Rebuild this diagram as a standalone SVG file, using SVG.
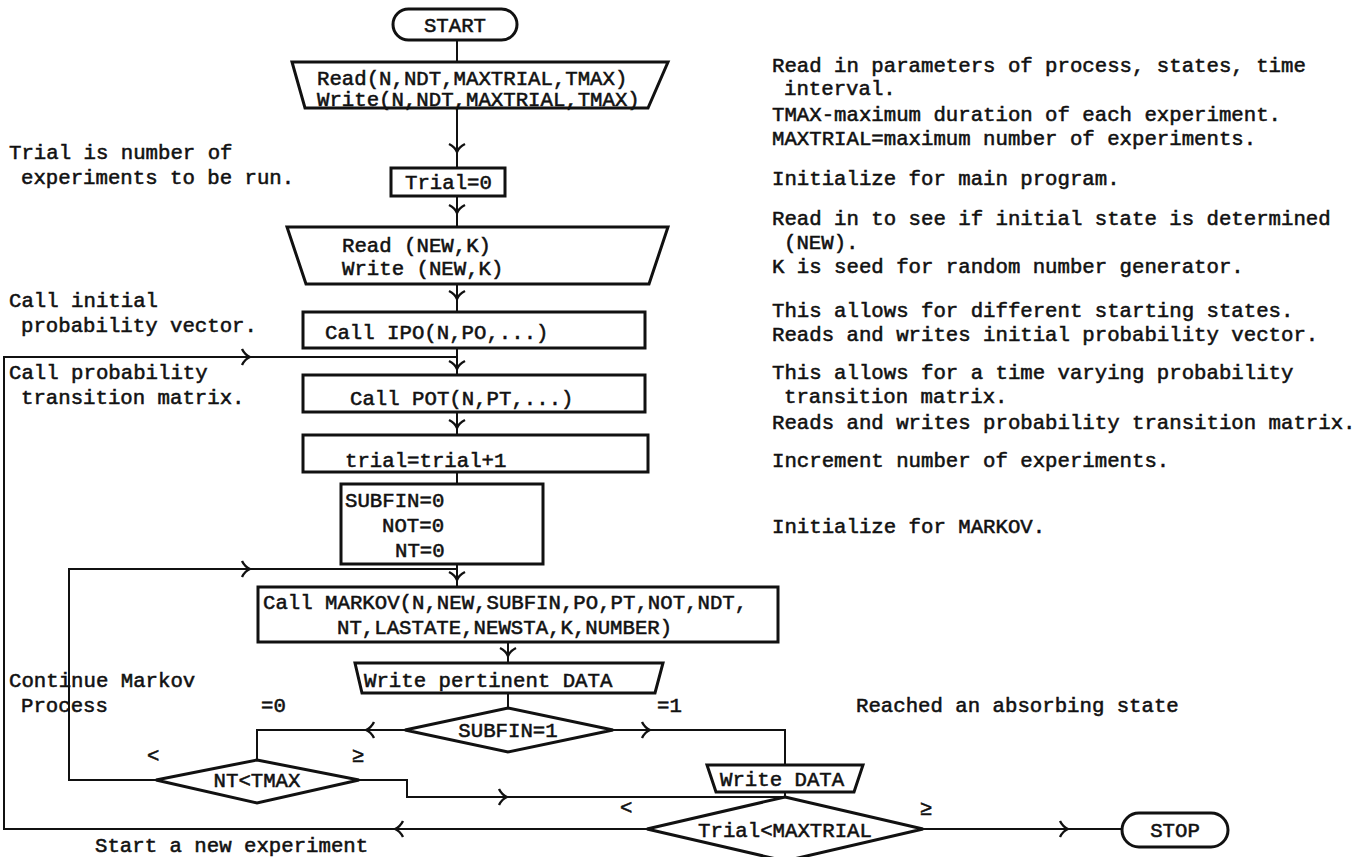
<svg xmlns="http://www.w3.org/2000/svg" width="1369" height="857" viewBox="0 0 1369 857">
<style>
text{font-family:"Liberation Mono","Courier New",monospace;font-size:20.7px;fill:#111;stroke:#111;stroke-width:0.55}
.m{text-anchor:middle}
.box{fill:none;stroke:#111;stroke-width:3}
.ln{fill:none;stroke:#111;stroke-width:2}
</style>
<defs>
<path id="chev" d="M-8,-8 Q-2,-5 0,0 Q2,-5 8,-8" fill="none" stroke="#111" stroke-width="2.4"/>
</defs>
<rect width="1369" height="857" fill="#fff"/>

<g id="connectors">
<path class="ln" d="M457,40 V62"/>
<path class="ln" d="M457,108 V168"/>
<use href="#chev" transform="translate(457,152)"/>
<path class="ln" d="M457,196 V227"/>
<use href="#chev" transform="translate(457,213)"/>
<path class="ln" d="M457,284 V312"/>
<use href="#chev" transform="translate(457,299)"/>
<path class="ln" d="M457,348 V375"/>
<use href="#chev" transform="translate(457,369)"/>
<path class="ln" d="M457,412 V435"/>
<use href="#chev" transform="translate(457,428)"/>
<path class="ln" d="M457,472 V484"/>
<path class="ln" d="M457,564 V587"/>
<use href="#chev" transform="translate(457,580)"/>
<path class="ln" d="M508,642 V663"/>
<use href="#chev" transform="translate(508,656)"/>
<path class="ln" d="M508,693 V708"/>
<path class="ln" d="M405,730 H257 V760"/>
<use href="#chev" transform="translate(366,730) rotate(90)"/>
<path class="ln" d="M613,730 H785 V765"/>
<use href="#chev" transform="translate(650,730) rotate(-90)"/>
<path class="ln" d="M785,792 V797"/>
<path class="ln" d="M156,780 H69 V569 H457"/>
<use href="#chev" transform="translate(250,569) rotate(-90)"/>
<path class="ln" d="M359,780 H407 V797 H785"/>
<use href="#chev" transform="translate(507,797) rotate(-90)"/>
<path class="ln" d="M647,829 H4 V357 H457"/>
<use href="#chev" transform="translate(395,829) rotate(90)"/>
<use href="#chev" transform="translate(250,357) rotate(-90)"/>
<path class="ln" d="M923,829 H1122"/>
<use href="#chev" transform="translate(1068,829) rotate(-90)"/>
</g>

<g id="start"><rect class="box" x="393" y="9" width="124" height="31" rx="15.5"/><text class="m" x="455" y="32">START</text></g>
<g id="io1"><polygon class="box" points="292,62 668,62 648,108 305,108"/><text x="317" y="85">Read(N,NDT,MAXTRIAL,TMAX)</text><text x="317" y="106">Write(N,NDT,MAXTRIAL,TMAX)</text></g>
<g id="trial0"><rect class="box" x="391" y="168" width="114" height="28"/><text x="405" y="189">Trial=0</text></g>
<g id="io2"><polygon class="box" points="287,227 668,227 649,284 306,284"/><text x="342" y="252">Read (NEW,K)</text><text x="342" y="275">Write (NEW,K)</text></g>
<g id="ipo"><rect class="box" x="303" y="312" width="342" height="36"/><text x="325" y="339">Call IPO(N,PO,...)</text></g>
<g id="pot"><rect class="box" x="303" y="375" width="342" height="37"/><text x="350" y="405">Call POT(N,PT,...)</text></g>
<g id="inc"><rect class="box" x="303" y="435" width="345" height="37"/><text x="345" y="467">trial=trial+1</text></g>
<g id="init"><rect class="box" x="341" y="484" width="202" height="80"/><text x="345" y="507">SUBFIN=0</text><text x="382" y="532">NOT=0</text><text x="395" y="557">NT=0</text></g>
<g id="markov"><rect class="box" x="258" y="587" width="520" height="55"/><text x="263" y="609">Call MARKOV(N,NEW,SUBFIN,PO,PT,NOT,NDT,</text><text x="337" y="634">NT,LASTATE,NEWSTA,K,NUMBER)</text></g>
<g id="wpd"><polygon class="box" points="355,663 663,663 655,693 362,693"/><text x="364" y="687">Write pertinent DATA</text></g>
<g id="subfin1"><polygon class="box" points="508,708 613,730 508,752 405,730"/><text class="m" x="508" y="737">SUBFIN=1</text></g>
<g id="nttmax"><polygon class="box" points="257,760 359,780 257,803 156,780"/><text class="m" x="257" y="787">NT&lt;TMAX</text></g>
<g id="wdata"><polygon class="box" points="707,765 863,765 854,792 716,792"/><text x="720" y="786">Write DATA</text></g>
<g id="trialmax"><polygon class="box" points="785,797 923,829 785,861 647,829"/><text class="m" x="785" y="837">Trial&lt;MAXTRIAL</text></g>
<g id="stop"><rect class="box" x="1122" y="813" width="106" height="34" rx="17"/><text class="m" x="1175" y="837">STOP</text></g>

<g id="labels">
<text x="261" y="712">=0</text>
<text x="657" y="712">=1</text>
<text x="147" y="762">&lt;</text>
<text x="352" y="762">≥</text>
<text x="620" y="814">&lt;</text>
<text x="920" y="815">≥</text>
</g>

<g id="notes-left">
<text x="9" y="159">Trial is number of</text>
<text x="21" y="184">experiments to be run.</text>
<text x="9" y="307">Call initial</text>
<text x="21" y="332">probability vector.</text>
<text x="9" y="379">Call probability</text>
<text x="21" y="404">transition matrix.</text>
<text x="9" y="687">Continue Markov</text>
<text x="21" y="712">Process</text>
<text x="95" y="852">Start a new experiment</text>
</g>

<g id="notes-right">
<text x="772" y="72">Read in parameters of process, states, time</text>
<text x="784" y="95">interval.</text>
<text x="772" y="121">TMAX-maximum duration of each experiment.</text>
<text x="772" y="145">MAXTRIAL=maximum number of experiments.</text>
<text x="772" y="185">Initialize for main program.</text>
<text x="772" y="225">Read in to see if initial state is determined</text>
<text x="784" y="249">(NEW).</text>
<text x="772" y="273">K is seed for random number generator.</text>
<text x="772" y="317">This allows for different starting states.</text>
<text x="772" y="341">Reads and writes initial probability vector.</text>
<text x="772" y="379">This allows for a time varying probability</text>
<text x="784" y="403">transition matrix.</text>
<text x="772" y="429">Reads and writes probability transition matrix.</text>
<text x="772" y="467">Increment number of experiments.</text>
<text x="772" y="533">Initialize for MARKOV.</text>
<text x="856" y="712">Reached an absorbing state</text>
</g>
</svg>
